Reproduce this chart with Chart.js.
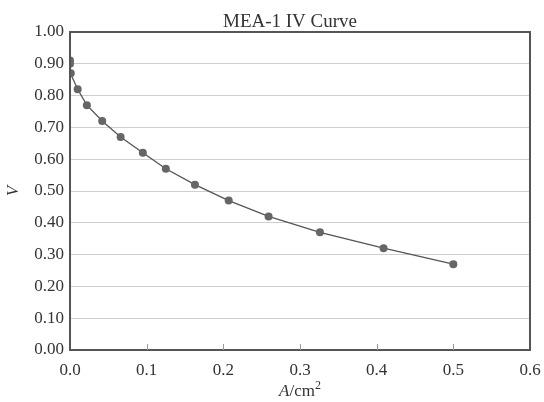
<!DOCTYPE html>
<html>
<head>
<meta charset="utf-8">
<script src="https://cdn.jsdelivr.net/npm/chart.js@4/dist/chart.umd.min.js"></script>
<style>
  html, body { margin: 0; padding: 0; background: #fff; }
  #wrap { width: 544px; height: 402px; }
</style>
</head>
<body>
<div id="wrap"><canvas id="chart"></canvas></div>
<script>
// current density (A/cm2) and cell voltage (V)
const current = [0.0, 0.0, 0.001, 0.01, 0.022, 0.042, 0.066, 0.095, 0.125, 0.163, 0.207, 0.259, 0.326, 0.409, 0.50];
const voltage = [0.91, 0.90, 0.87, 0.82, 0.77, 0.72, 0.67, 0.62, 0.57, 0.52, 0.47, 0.42, 0.37, 0.32, 0.27];
const xTicks = [0, 0.1, 0.2, 0.3, 0.4, 0.5, 0.6];
const yTicks = [0, 0.1, 0.2, 0.3, 0.4, 0.5, 0.6, 0.7, 0.8, 0.9, 1.0];
const chartTitle = "MEA-1 IV Curve";

const serif = "'Liberation Serif', 'DejaVu Serif', serif";
const ctx = document.getElementById("chart").getContext("2d");

// frame on top/right, little ticks pointing up from the x axis, title and x axis title
const framePlugin = {
    id: "frame",
    afterDraw(chart) {
        const c = chart.ctx;
        const a = chart.chartArea;
        const xs = chart.scales.x;
        c.save();
        c.strokeStyle = "#555";
        c.lineWidth = 2;
        c.strokeRect(a.left, a.top, a.right - a.left, a.bottom - a.top);

        c.lineWidth = 1;
        c.strokeStyle = "#999";
        xTicks.forEach(v => {
            if (v === 0 || v === 0.6) return;
            const px = Math.round(xs.getPixelForValue(v)) + 0.5;
            c.beginPath();
            c.moveTo(px, a.bottom);
            c.lineTo(px, a.bottom - 6);
            c.stroke();
        });

        // chart title, a bit left of the plot centre like the original
        c.fillStyle = "#333";
        c.font = "19px " + serif;
        c.textAlign = "center";
        c.textBaseline = "alphabetic";
        c.fillText(chartTitle, (a.left + a.right) / 2 - 10, 27);

        // x title: italic A, then /cm with superscript 2
        c.textAlign = "left";
        const y = 396;
        c.font = "italic 17px " + serif;
        const wA = c.measureText("A").width;
        c.font = "17px " + serif;
        const wCm = c.measureText("/cm").width;
        c.font = "12px " + serif;
        const w2 = c.measureText("2").width;
        let x = (a.left + a.right) / 2 - (wA + wCm + w2) / 2;
        c.font = "italic 17px " + serif;
        c.fillText("A", x, y);
        x += wA;
        c.font = "17px " + serif;
        c.fillText("/cm", x, y);
        x += wCm;
        c.font = "12px " + serif;
        c.fillText("2", x, y - 7);
        c.restore();
    }
};

const chart = new Chart(ctx, {
    type: "scatter",
    data: {
        datasets: [
            {
                label: "MEA-1",
                data: current.map((v, i) => ({ x: v, y: voltage[i] })),
                showLine: true,
                borderColor: "#555",
                borderWidth: 1.3,
                pointRadius: 4,
                pointHoverRadius: 4,
                pointBackgroundColor: "#666",
                pointBorderColor: "#666",
                pointBorderWidth: 0,
            }
        ]
    },
    options: {
        responsive: true,
        maintainAspectRatio: false,
        animation: false,
        layout: { padding: { top: 32, right: 14, left: 0, bottom: 0 } },
        scales: {
            x: {
                type: "linear",
                min: 0,
                max: 0.6,
                afterBuildTicks: (scale) => { scale.ticks = xTicks.map(v => ({ value: v })); },
                afterFit: (scale) => {
                    scale.height = 52;
                    scale.paddingLeft = 0;
                    scale.paddingRight = 0;
                },
                ticks: {
                    callback: (v) => v.toFixed(1),
                    font: { family: serif, size: 17 },
                    color: "#333",
                    padding: 10,
                    maxRotation: 0,
                },
                grid: { drawOnChartArea: false, drawTicks: false },
                border: { display: true, color: "#555", width: 2 },
            },
            y: {
                type: "linear",
                min: 0,
                max: 1,
                afterBuildTicks: (scale) => { scale.ticks = yTicks.map(v => ({ value: v })); },
                afterFit: (scale) => {
                    scale.width = 70;
                    scale.paddingTop = 0;
                    scale.paddingBottom = 0;
                },
                ticks: {
                    callback: (v) => v.toFixed(2),
                    font: { family: serif, size: 17 },
                    color: "#333",
                    padding: 6,
                },
                grid: { color: "#cfcfcf", lineWidth: 1, drawTicks: false },
                border: { display: true, color: "#555", width: 2 },
                title: {
                    display: true,
                    text: "V",
                    font: { family: serif, size: 17, style: "italic" },
                    color: "#333",
                    padding: { top: 3, bottom: 0 },
                },
            }
        },
        plugins: {
            legend: { display: false },
            tooltip: { enabled: false },
            title: { display: false }
        }
    },
    plugins: [framePlugin]
});
</script>
</body>
</html>
